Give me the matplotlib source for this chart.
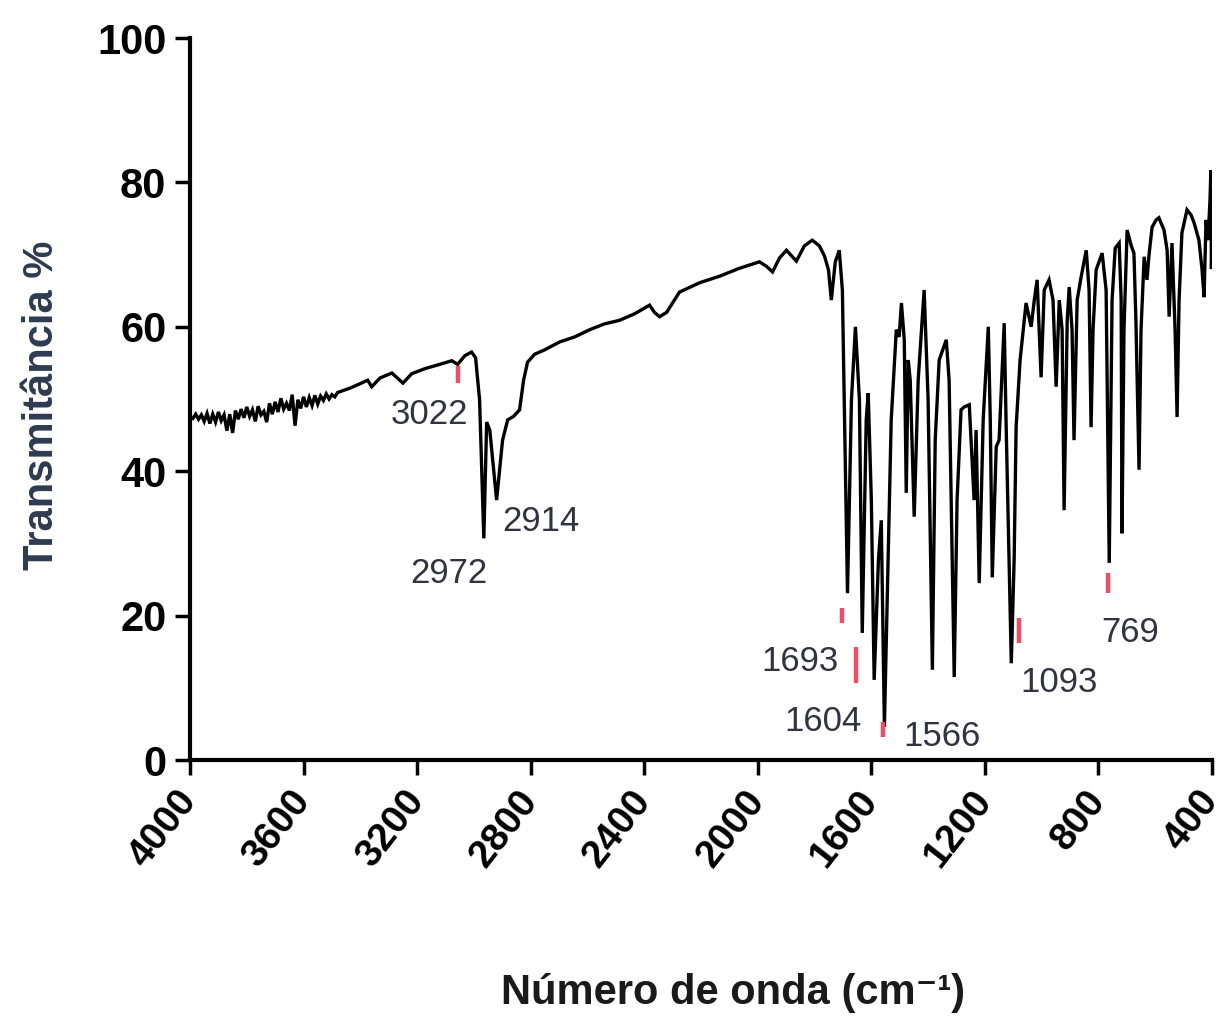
import matplotlib
matplotlib.use("Agg")
import matplotlib.pyplot as plt

# ---- spectrum data (wavenumber cm-1, transmittance %) ----
wavenumber = [4000, 3990, 3980, 3970, 3960, 3950, 3940, 3930, 3920, 3910, 3900, 3890, 3880, 3870,
              3860, 3850, 3840, 3830, 3820, 3810, 3800, 3790, 3780, 3770, 3760, 3750, 3740, 3730,
              3720, 3710, 3700, 3690, 3680, 3670, 3660, 3650, 3640, 3630, 3620, 3610, 3600, 3590,
              3580, 3570, 3560, 3550, 3540, 3530, 3520, 3510, 3500, 3490, 3480,
              3437, 3402, 3374,
              3360, 3331, 3289, 3250, 3219, 3173, 3120, 3078, 3057, 3032, 3008, 2994, 2980, 2965,
              2955, 2944, 2920, 2899, 2881, 2860, 2839, 2825, 2811, 2786, 2751, 2698, 2645, 2592,
              2540, 2487, 2434, 2381, 2364, 2346, 2321, 2276, 2205, 2135, 2065, 1994, 1970, 1948,
              1924, 1899, 1878, 1864, 1836, 1808, 1783, 1765, 1751, 1741, 1727, 1713, 1702, 1684,
              1670, 1656, 1642, 1632, 1618, 1611, 1600, 1590, 1575, 1565, 1554, 1544, 1530, 1512,
              1502, 1494, 1484, 1477, 1470, 1463, 1449, 1435, 1414, 1400, 1385, 1375, 1361, 1336,
              1326, 1308, 1298, 1284, 1273, 1255, 1238, 1231, 1220, 1206, 1188, 1181, 1174, 1160,
              1150, 1132, 1125, 1107, 1097, 1090, 1076, 1055, 1037, 1026, 1016, 1002, 991, 974,
              960, 949, 938, 928, 921, 910, 903, 893, 886, 875, 861, 843, 833, 826, 819, 808, 787,
              773, 762, 752, 741, 727, 720, 717, 710, 699, 685, 675, 668, 657, 650, 639, 629, 622,
              611, 597, 587, 569, 558, 551, 541, 530, 523, 516, 506, 488, 474, 463, 446, 435, 428,
              421, 414, 407, 404, 402, 400]
transmittance = [47.5, 47.3, 47.9, 47.2, 47.8, 46.9, 48.0, 46.6, 47.9, 46.8, 48.2, 47.0, 47.8, 45.6,
                 47.9, 45.3, 48.4, 47.2, 48.6, 47.4, 48.9, 47.6, 48.5, 46.9, 49.0, 47.8, 48.3, 46.8,
                 49.4, 47.9, 49.6, 48.2, 50.1, 48.6, 49.4, 48.4, 50.6, 46.3, 49.9, 48.7, 50.3, 48.9,
                 50.2, 49.1, 50.5, 49.3, 50.4, 49.8, 50.7, 50.0, 50.6, 50.3, 50.9,
                 51.5, 52.1, 52.6,
                 51.7, 52.9, 53.6, 52.2, 53.5, 54.2, 54.8, 55.3, 54.8, 56.0, 56.5, 55.7, 49.9, 30.7,
                 46.8, 45.7, 36.0, 44.3, 47.1, 47.6, 48.5, 52.6, 55.1, 56.2, 56.8, 57.9, 58.6, 59.6,
                 60.4, 60.9, 61.8, 63.0, 62.0, 61.4, 62.0, 64.8, 66.1, 67.0, 68.1, 69.0, 68.4, 67.6,
                 69.5, 70.6, 69.7, 69.1, 71.2, 72.0, 71.2, 69.8, 67.9, 63.7, 69.0, 70.6, 65.1, 23.1,
                 49.9, 60.0, 49.9, 17.6, 47.1, 50.8, 36.0, 11.1, 27.7, 33.2, 4.6, 22.2, 47.1, 59.6,
                 58.6, 63.3, 58.2, 37.0, 55.4, 52.6, 33.7, 52.6, 65.1, 49.9, 12.5, 44.3, 55.4, 58.2,
                 52.6, 11.5, 36.0, 48.5, 48.9, 49.2, 36.0, 45.7, 24.5, 47.1, 60.0, 47.1, 25.3, 43.4,
                 44.3, 60.5, 46.1, 13.4, 27.7, 46.1, 55.4, 63.3, 60.0, 63.7, 66.5, 53.0, 65.1, 66.5,
                 63.7, 51.7, 63.7, 59.6, 34.6, 60.9, 65.5, 59.6, 44.3, 63.7, 66.9, 70.6, 65.1, 46.1,
                 59.6, 67.9, 70.2, 65.1, 27.3, 63.7, 70.9, 71.6, 63.7, 31.4, 59.6, 73.4, 71.3, 70.2,
                 60.9, 40.2, 59.6, 69.7, 66.5, 69.9, 73.8, 74.8, 75.1, 73.4, 70.6, 61.4, 71.6, 59.6,
                 47.5, 63.7, 73.0, 76.2, 75.5, 74.4, 72.0, 67.9, 64.1, 74.8, 72.0, 77.6, 81.7, 68.0,
                 72.0]

# ---- peak annotations ----
peak_labels = ["3022", "2972", "2914", "1693", "1604", "1566", "1093", "769"]
label_wn = [3155, 3089, 2765, 1850, 1769, 1350, 938, 689]
label_t = [47.8, 25.9, 33.0, 13.6, 5.3, 3.2, 10.8, 17.7]
mark_wn = [3057, 1702, 1653, 1558, 1079, 766]
mark_lo = [52.2, 19.0, 10.7, 3.2, 16.2, 23.1]
mark_hi = [54.6, 21.1, 15.7, 5.3, 19.7, 25.9]

x_ticks = [4000, 3600, 3200, 2800, 2400, 2000, 1600, 1200, 800, 400]
y_ticks = [0, 20, 40, 60, 80, 100]

plt.rcParams['font.family'] = ['Liberation Sans', 'DejaVu Sans']

fig = plt.figure(figsize=(12.25, 10.3), dpi=100)
ax = fig.add_axes([190 / 1225, 1 - 760 / 1030, (1212 - 190) / 1225, (760 - 38) / 1030])

ax.plot(wavenumber, transmittance, color='black', linewidth=2.4, solid_joinstyle='miter')

for w, lo, hi in zip(mark_wn, mark_lo, mark_hi):
    ax.plot([w, w], [lo, hi], color='#ee4d62', linewidth=3.2, solid_capstyle='butt')

for s, w, t in zip(peak_labels, label_wn, label_t):
    ax.text(w, t, s, fontsize=25, color='#333340', ha='center', va='center', clip_on=False)

ax.set_xlim(4000, 400)
ax.set_ylim(0, 100)
ax.set_xticks(x_ticks)
ax.set_yticks(y_ticks)
ax.set_xticklabels([str(v) for v in x_ticks], rotation=52, ha='right', va='center',
                   rotation_mode='anchor', fontsize=28, fontweight='bold')
ax.set_yticklabels([str(v) for v in y_ticks], fontsize=30, fontweight='bold')
ax.tick_params(axis='both', direction='out', length=11, width=2.5, color='black', pad=6)
ax.tick_params(axis='x', pad=14)

for side in ['top', 'right']:
    ax.spines[side].set_visible(False)
for side in ['left', 'bottom']:
    ax.spines[side].set_linewidth(3)

fig.text(42 / 1225, 1 - 405 / 1030, "Transmitância %", rotation=90, fontsize=30,
         fontweight='bold', color='#2e3a50', ha='center', va='center')
fig.text(733 / 1225, 1 - 993 / 1030, "Número de onda (cm⁻¹)", fontsize=30,
         fontweight='bold', color='#1a1a1a', ha='center', va='center',
         family=['Liberation Sans', 'DejaVu Sans'])

fig.savefig("out.png", dpi=100)
